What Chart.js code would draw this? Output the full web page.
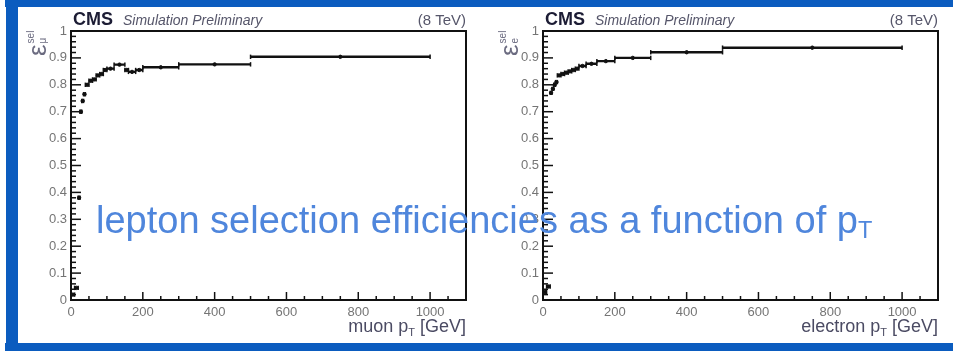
<!DOCTYPE html>
<html>
<head>
<meta charset="utf-8">
<script src="https://cdn.jsdelivr.net/npm/chart.js@4.4.1/dist/chart.umd.min.js"></script>
<style>
  body { margin:0; width:953px; height:351px; overflow:hidden; background:#fff; position:relative; font-family:"Liberation Sans", Arial, sans-serif; }
  canvas { position:absolute; top:0; }
  .band { position:absolute; background:#0b5cbf; }
  #caption { position:absolute; left:96px; top:201px; font-size:38px; line-height:38px; color:#4f86dc; white-space:nowrap; }
  #caption sub { font-size:0.62em; vertical-align:-0.2em; }
</style>
</head>
<body>
<canvas id="muon" width="476" height="351" style="left:0"></canvas>
<canvas id="elec" width="481" height="351" style="left:472px"></canvas>
<div class="band" style="left:5px;top:0;width:948px;height:7px"></div>
<div class="band" style="left:6px;top:0;width:12px;height:351px"></div>
<div class="band" style="left:5px;top:343px;width:948px;height:8px"></div>
<div id="caption">lepton selection efficiencies as a function of p<sub>T</sub></div>
<script>
// bin edges (GeV) and efficiency per bin
const muonEdges = [0, 10, 20, 25, 30, 35, 40, 50, 60, 70, 80, 90, 100, 120, 150, 160, 180, 200, 300, 500, 1000];
const muonEff   = [0.02, 0.045, 0.38, 0.70, 0.74, 0.765, 0.80, 0.815, 0.82, 0.835, 0.84, 0.855, 0.86, 0.875, 0.855, 0.848, 0.855, 0.865, 0.876, 0.904];
const elecEdges = [0, 10, 20, 25, 30, 35, 40, 50, 60, 70, 80, 90, 100, 120, 150, 200, 300, 500, 1000];
const elecEff   = [0.03, 0.05, 0.77, 0.785, 0.80, 0.81, 0.835, 0.84, 0.845, 0.85, 0.855, 0.86, 0.87, 0.878, 0.888, 0.90, 0.921, 0.938];
const xTickLabels = [0, 200, 400, 600, 800, 1000];
const yTickLabels = [0, 0.1, 0.2, 0.3, 0.4, 0.5, 0.6, 0.7, 0.8, 0.9, 1];

const ink = '#111';
const tickColor = '#757575';

// horizontal error bars, one segment per bin, broken by nulls
function binSegments(edges, eff) {
  const pts = [];
  eff.forEach((e, i) => {
    pts.push({ x: edges[i], y: e }, { x: edges[i + 1], y: e }, { x: edges[i + 1], y: null });
  });
  return pts;
}
function binCenters(edges, eff) {
  return eff.map((e, i) => ({ x: (edges[i] + edges[i + 1]) / 2, y: e }));
}
const isLabel = (list, v) => list.some(l => Math.abs(l - v) < 1e-6);

const rootStyle = {
  id: 'rootStyle',
  afterDraw(chart, args, opts) {
    const { ctx, chartArea: a, scales: { x, y } } = chart;
    ctx.save();
    ctx.strokeStyle = ink;
    ctx.lineWidth = 1.5;
    // ticks drawn inside the frame
    x.ticks.forEach(t => {
      const px = x.getPixelForValue(t.value);
      const len = t.value % 200 === 0 ? 8 : 4;
      ctx.beginPath(); ctx.moveTo(px, a.bottom); ctx.lineTo(px, a.bottom - len); ctx.stroke();
    });
    y.ticks.forEach(t => {
      const py = y.getPixelForValue(t.value);
      const len = isLabel(yTickLabels, t.value) ? 10 : 5;
      ctx.beginPath(); ctx.moveTo(a.left, py); ctx.lineTo(a.left + len, py); ctx.stroke();
    });
    // top and right frame
    ctx.lineWidth = 2;
    ctx.beginPath();
    ctx.moveTo(a.left, a.top); ctx.lineTo(a.right, a.top); ctx.lineTo(a.right, a.bottom);
    ctx.stroke();

    // header
    ctx.textBaseline = 'alphabetic';
    ctx.fillStyle = '#1c1c34';
    ctx.font = 'bold 18px "Liberation Sans", Arial';
    ctx.textAlign = 'left';
    ctx.fillText('CMS', a.left + 2, 25);
    ctx.fillStyle = '#56566a';
    ctx.font = 'italic 14px "Liberation Sans", Arial';
    ctx.fillText('Simulation Preliminary', a.left + 52, 25);
    ctx.textAlign = 'right';
    ctx.font = '15px "Liberation Sans", Arial';
    ctx.fillText('(8 TeV)', a.right, 25);

    // x axis title: "<name> p_T [GeV]"
    ctx.textAlign = 'left';
    ctx.fillStyle = '#4b4b63';
    ctx.font = '18px "Liberation Sans", Arial';
    const main = opts.name + ' p';
    const unit = ' [GeV]';
    const w1 = ctx.measureText(main).width;
    const w2 = ctx.measureText(unit).width;
    ctx.font = '11px "Liberation Sans", Arial';
    const wT = ctx.measureText('T').width;
    const x0 = a.right - (w1 + wT + w2);
    ctx.font = '18px "Liberation Sans", Arial';
    ctx.fillText(main, x0, 332);
    ctx.fillText(unit, x0 + w1 + wT, 332);
    ctx.font = '11px "Liberation Sans", Arial';
    ctx.fillText('T', x0 + w1, 336);

    // y axis title, rotated epsilon with scripts
    ctx.translate(a.left - 25, a.top + 25);
    ctx.rotate(-Math.PI / 2);
    ctx.fillStyle = '#6b6b80';
    ctx.font = '26px "Liberation Sans", Arial';
    ctx.fillText('ε', 0, 0);
    const we = ctx.measureText('ε').width;
    ctx.font = '10px "Liberation Sans", Arial';
    ctx.fillText('sel', we + 1, -12);
    ctx.fillText(opts.sub, we + 1, 0);
    ctx.restore();
  }
};

function makeChart(id, edges, eff, name, sub, padRight) {
  return new Chart(document.getElementById(id), {
    type: 'line',
    data: {
      datasets: [
        {
          data: binSegments(edges, eff),
          borderColor: ink, borderWidth: 2.4, spanGaps: false,
          pointStyle: 'line', rotation: 90, pointRadius: 2.2,
          pointBorderColor: ink, pointBorderWidth: 1.5
        },
        {
          data: binCenters(edges, eff),
          showLine: false, pointStyle: 'circle', pointRadius: 1.7,
          pointBackgroundColor: ink, pointBorderColor: ink
        }
      ]
    },
    options: {
      responsive: false, animation: false,
      layout: { padding: { top: 31, right: padRight, left: 0, bottom: 0 } },
      plugins: { legend: { display: false }, tooltip: { enabled: false }, rootStyle: { name, sub } },
      scales: {
        x: {
          type: 'linear', min: 0, max: 1100,
          grid: { display: false, drawTicks: false },
          border: { display: true, color: ink, width: 2 },
          ticks: {
            stepSize: 50, autoSkip: false, maxRotation: 0, padding: 5, color: tickColor,
            font: { family: '"Liberation Sans", Arial', size: 13 },
            callback: v => isLabel(xTickLabels, v) ? String(v) : ''
          },
          afterFit: s => { s.height = 51; }
        },
        y: {
          type: 'linear', min: 0, max: 1,
          grid: { display: false, drawTicks: false },
          border: { display: true, color: ink, width: 2 },
          ticks: {
            stepSize: 0.02, autoSkip: false, padding: 4, color: tickColor,
            font: { family: '"Liberation Sans", Arial', size: 13 },
            callback: v => isLabel(yTickLabels, v) ? (v === 0 || v === 1 ? String(v) : v.toFixed(1)) : ''
          },
          afterFit: s => { s.width = 71; }
        }
      }
    },
    plugins: [rootStyle]
  });
}

makeChart('muon', muonEdges, muonEff, 'muon', 'μ', 10);
makeChart('elec', elecEdges, elecEff, 'electron', 'e', 15);
</script>
</body>
</html>
